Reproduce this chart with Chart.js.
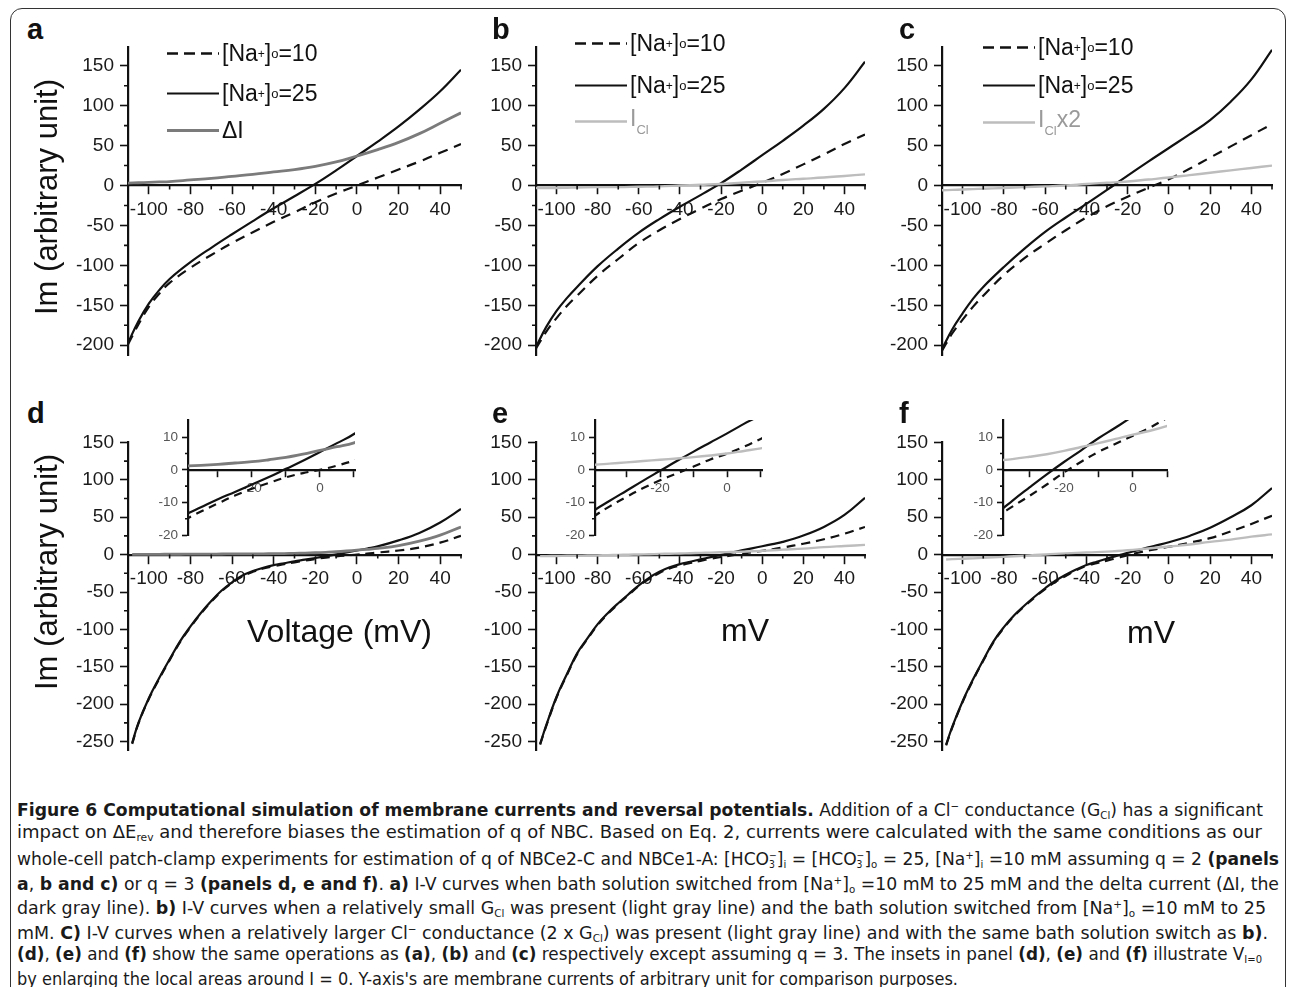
<!DOCTYPE html>
<html>
<head>
<meta charset="utf-8">
<script src="https://cdn.jsdelivr.net/npm/chart.js@4.4.1/dist/chart.umd.min.js"></script>
<style>
  body { margin: 0; background: #fff; }
  #page { position: relative; width: 1290px; height: 987px; overflow: hidden; color: #111;
          font-family: "Liberation Sans", Arial, sans-serif; }
  #frame { position: absolute; left: 10px; top: 8px; width: 1276px; height: 1000px;
           border: 1.5px solid #333; border-radius: 12px; box-sizing: border-box; }
  canvas { position: absolute; }
  .lbl { position: absolute; font-weight: bold; font-size: 29px; line-height: 1; }
  .ytitle { position: absolute; font-size: 31px; white-space: nowrap; line-height: 1;
            transform: translate(-50%, -50%) rotate(-90deg); }
  .xtitle { position: absolute; font-size: 32px; white-space: nowrap; line-height: 1;
            transform: translateY(-50%); }
  .leg { position: absolute; font-size: 23px; white-space: nowrap; line-height: 1;
         display: flex; align-items: center; transform: translateY(-50%); }
  .leg svg { margin-right: 3px; }
  .leg sup { font-size: 12px; vertical-align: 10px; }
  .leg sub { font-size: 13px; vertical-align: -8px; }
  .cap { position: absolute; white-space: nowrap; font-size: 18.5px; line-height: 24px;
         transform-origin: 0 50%; color: #1a1a1a;
         font-family: "Liberation Sans Narrow", "DejaVu Sans Condensed", "Liberation Sans", Arial, sans-serif; }
  .cap sub { font-size: 11px; vertical-align: -3px; }
  .cap sup { font-size: 11px; vertical-align: 6px; }
  .ss { display: inline-flex; flex-direction: column; font-size: 10px; line-height: 9px;
        vertical-align: 6px; }
</style>
</head>
<body>
<div id="page"><div id="frame"></div></div>
<script>
// voltages (mV) for the top row (q = 2) and bottom row (q = 3)
const vTop = [-110, -105, -100, -95, -90, -80, -70, -60, -50, -40, -30, -20, -10, 0, 10, 20, 30, 40, 50];
const vBot = [-108, -105, -100, -95, -90, -85, -80, -75, -70, -65, -60, -55, -50, -45, -40, -35, -30,
              -25, -20, -15, -10, -5, 0, 5, 10, 20, 30, 40, 50];

// panel a
const aNa10 = [-199, -174, -152, -135.5, -122, -103, -87, -72, -58.5, -45.5, -33.5, -21, -10, 0, 10, 20, 30, 41, 52];
const aNa25 = [-197, -170, -148, -131, -117, -96, -78, -61, -44.5, -28.5, -13.5, 2, 19, 37, 55, 74, 95, 118, 145];
const aDeltaI = [3, 3.5, 4, 4.5, 5, 7, 9, 11.5, 14, 17, 20, 24, 29.5, 37, 45, 54, 65, 78, 91];
// panel b
const bNa10 = [-204, -183, -166, -151, -138, -113, -92, -72, -56, -42, -29, -17, -6.5, 3.5, 14.5, 26.5, 39, 52, 64];
const bNa25 = [-202, -177, -157, -141, -127, -101, -79, -59, -42, -26.5, -12, 3, 20, 38, 56, 75, 96, 122, 155];
const bICl = [-3, -3, -3, -2.7, -2.5, -2, -2, -1.5, -1, 0, 1, 2, 3.5, 5, 7, 8.5, 10, 12, 14];
// panel c
const cNa10 = [-207, -185, -168, -152, -138, -112, -91, -73, -56, -40, -26, -14, -3, 8, 21, 35, 49, 63, 77];
const cNa25 = [-205, -180, -160, -142, -127, -102, -79, -58, -40, -23, -5.5, 12.5, 30, 47, 64, 82, 105, 133, 170];
const cICl2 = [-6, -5.5, -5, -4.5, -4, -3, -2, -1, 0, 2, 3.5, 5, 7.5, 10, 13, 16, 19, 22, 25];
// panel d
const dNa10 = [-253, -226, -193, -166, -141, -117, -97, -79, -63, -49, -38, -29, -23, -18.6, -15.5, -12.8,
               -10.3, -7.9, -5.8, -4, -2.3, -1, 0, 1.3, 2.8, 5.5, 9.5, 16, 25];
const dNa25 = [-252, -225, -192, -165, -140, -116, -96, -78, -62, -48, -37, -28, -22, -17.5, -14, -11.5,
               -9, -6.8, -4.5, -2.2, 0.3, 2.8, 5.5, 8.2, 11, 19, 29, 43, 61];
const dDeltaI = [0.3, 0.3, 0.4, 0.4, 0.5, 0.5, 0.6, 0.6, 0.7, 0.8, 0.9, 1, 1, 1.1, 1.2, 1.4, 1.7, 2.1,
                 2.5, 3.1, 3.8, 4.8, 6, 7.1, 8.3, 12, 18, 26, 37];
// panel e
const eNa10 = [-254, -229, -191, -161, -133, -113, -94, -79, -66, -54, -42, -32.5, -24.5, -18.5, -14.5,
               -11.2, -8.3, -5.6, -3.2, -1.1, 1, 3.2, 5, 7.1, 9.5, 14.5, 20.5, 28, 37];
const eNa25 = [-253, -228, -190, -160, -132, -112, -93, -78, -65, -53, -41, -31, -23, -17, -12.7, -9.5,
               -6.4, -3.3, -0.3, 2.7, 5.6, 8.4, 11.2, 14.1, 17, 25.5, 37, 53, 76];
const eICl = [-2, -2, -1.8, -1.6, -1.4, -1.2, -1, -0.7, -0.4, -0.1, 0.2, 0.5, 0.9, 1.2, 1.5, 1.9, 2.3,
              2.7, 3.1, 3.5, 3.9, 4.4, 5, 5.8, 6.6, 8, 10, 11.5, 13];
// panel f
const fNa10 = [-255, -231, -197, -168, -142, -117, -98, -82, -69, -57, -46, -36.5, -28.5, -21, -15,
               -11.3, -8, -4.5, -0.8, 2.5, 5.5, 8, 10.5, 13, 16, 22, 31, 41, 52];
const fNa25 = [-254, -230, -196, -167, -141, -116, -97, -81, -68, -56, -45, -35, -27, -20, -14, -9.5,
               -5.4, -1.4, 2.4, 6, 9.7, 13, 16.5, 20.5, 25, 36, 50, 66, 89];
const fICl2 = [-6.5, -6, -5.5, -5, -4.3, -3.6, -3, -2.2, -1.4, -0.6, 0.2, 1, 1.7, 2.3, 2.8, 3.3, 4, 4.8,
               5.8, 7, 8.2, 9.5, 10.8, 12, 13.5, 17, 20, 24, 27];

// axis ticks
const xMajor = [-100, -80, -60, -40, -20, 0, 20, 40];
const xMinor = [-90, -70, -50, -30, -10, 10, 30, 50];
const yTopMajor = [-200, -150, -100, -50, 0, 50, 100, 150];
const yTopMinor = [-175, -125, -75, -25, 25, 75, 125];
const yBotMajor = [-250, -200, -150, -100, -50, 0, 50, 100, 150];
const yBotMinor = [-225, -175, -125, -75, -25, 25, 75, 125];
const insetXTicks = [-30, -20, -10, 0, 10];
const insetXLabels = [-20, 0];
const insetYMajor = [-20, -10, 0, 10];
const insetYMinor = [-15, -5, 5];

const page = document.getElementById('page');
const FONT = '"Liberation Sans", Arial, sans-serif';

// short ticks between the labelled ones
const minorTickPlugin = {
  id: 'minorTicks',
  afterDraw(chart, _args, opts) {
    const { ctx } = chart;
    const xs = chart.scales.x, ys = chart.scales.y;
    const y0 = ys.getPixelForValue(0);
    const left = chart.chartArea.left;
    ctx.save();
    ctx.strokeStyle = '#111';
    ctx.lineWidth = 1.6;
    ctx.beginPath();
    (opts.x || []).forEach((v) => {
      const px = xs.getPixelForValue(v);
      ctx.moveTo(px, y0);
      ctx.lineTo(px, y0 + opts.len);
    });
    (opts.y || []).forEach((v) => {
      const py = ys.getPixelForValue(v);
      ctx.moveTo(left, py);
      ctx.lineTo(left - opts.len, py);
    });
    ctx.stroke();
    ctx.restore();
  },
};

function pts(xs, ys) {
  return xs.map((x, i) => ({ x, y: ys[i] }));
}

function line(xs, ys, kind, dash) {
  const look = {
    na10: { borderColor: '#111', borderWidth: 2.2, borderDash: dash || [10, 7] },
    na25: { borderColor: '#111', borderWidth: 2.2 },
    dI: { borderColor: '#7b7b7b', borderWidth: 2.8 },
    cl: { borderColor: '#bdbdbd', borderWidth: 2.4 },
  }[kind];
  return { data: pts(xs, ys), pointRadius: 0, tension: 0.4, fill: false, ...look };
}

function makeChart(cfg) {
  const YW = cfg.yw, PT = 14, PB = 14, PR = 10;
  const w = cfg.width + YW + PR, h = cfg.height + PT + PB;
  const cv = document.createElement('canvas');
  cv.width = w; cv.height = h;
  cv.style.width = w + 'px'; cv.style.height = h + 'px';
  cv.style.left = (cfg.left - YW) + 'px';
  cv.style.top = (cfg.top - PT) + 'px';
  page.appendChild(cv);

  const font = { family: FONT, size: cfg.fontSize };
  const chart = new Chart(cv, {
    type: 'line',
    data: { datasets: cfg.datasets },
    plugins: [minorTickPlugin],
    options: {
      responsive: false,
      animation: false,
      events: [],
      layout: { padding: { top: PT, bottom: PB, right: PR, left: 0 } },
      plugins: {
        legend: { display: false },
        tooltip: { enabled: false },
        minorTicks: { x: cfg.xMinor, y: cfg.yMinor, len: cfg.minorLen },
      },
      scales: {
        x: {
          type: 'linear',
          min: cfg.xMin,
          max: cfg.xMax,
          position: { y: 0 },
          afterBuildTicks: (s) => { s.ticks = cfg.xTicks.map((v) => ({ value: v })); },
          ticks: {
            autoSkip: false, maxRotation: 0, color: cfg.tickColor, font, padding: cfg.xPad,
            callback: (v) => (cfg.xLabels.includes(v) ? String(v) : ''),
          },
          grid: { drawOnChartArea: false, drawTicks: true, tickLength: cfg.majorLen,
                  tickWidth: 1.6, tickColor: '#111' },
          border: { display: true, color: '#111', width: 2.2 },
        },
        y: {
          type: 'linear',
          min: cfg.yMin,
          max: cfg.yMax,
          position: 'left',
          afterFit: (s) => { s.width = YW; },
          afterBuildTicks: (s) => { s.ticks = cfg.yTicks.map((v) => ({ value: v })); },
          ticks: { autoSkip: false, color: cfg.tickColor, font, padding: cfg.yPad,
                   callback: (v) => String(v) },
          grid: { drawOnChartArea: false, drawTicks: true, tickLength: cfg.majorLen,
                  tickWidth: 1.6, tickColor: '#111' },
          border: { display: true, color: '#111', width: 2.2 },
        },
      },
    },
  });
  const ca = chart.chartArea;
  cv.style.left = (cfg.left - ca.left) + 'px';
  cv.style.top = (cfg.top - ca.top) + 'px';
  return chart;
}

function mainPanel(left, width, row, datasets) {
  const top = row === 0 ? 47 : 442;
  return makeChart({
    left, top, width, height: 315, yw: 66,
    xMin: -110, xMax: 50,
    yMin: row === 0 ? -213 : -262, yMax: row === 0 ? 173 : 150,
    xTicks: xMajor, xLabels: xMajor, xMinor,
    yTicks: row === 0 ? yTopMajor : yBotMajor, yMinor: row === 0 ? yTopMinor : yBotMinor,
    fontSize: 19, tickColor: '#1a1a1a', xPad: 5, yPad: 6, majorLen: 8, minorLen: 4,
    datasets,
  });
}

function insetPanel(left, width, xMin, xMax, datasets) {
  return makeChart({
    left, top: 420, width, height: 115, yw: 42,
    xMin, xMax, yMin: -20, yMax: 15.3,
    xTicks: insetXTicks, xLabels: insetXLabels, xMinor: [],
    yTicks: insetYMajor, yMinor: insetYMinor,
    fontSize: 13.5, tickColor: '#555', xPad: 4, yPad: 4, majorLen: 6, minorLen: 3,
    datasets,
  });
}

// top row (q = 2)
mainPanel(128, 333, 0, [line(vTop, aDeltaI, 'dI'), line(vTop, aNa10, 'na10'), line(vTop, aNa25, 'na25')]);
mainPanel(536, 329, 0, [line(vTop, bICl, 'cl'), line(vTop, bNa10, 'na10'), line(vTop, bNa25, 'na25')]);
mainPanel(942, 330, 0, [line(vTop, cICl2, 'cl'), line(vTop, cNa10, 'na10'), line(vTop, cNa25, 'na25')]);

// bottom row (q = 3)
mainPanel(128, 333, 1, [line(vBot, dDeltaI, 'dI'), line(vBot, dNa10, 'na10', [9, 6]), line(vBot, dNa25, 'na25')]);
mainPanel(536, 329, 1, [line(vBot, eICl, 'cl'), line(vBot, eNa10, 'na10', [9, 6]), line(vBot, eNa25, 'na25')]);
mainPanel(942, 330, 1, [line(vBot, fICl2, 'cl'), line(vBot, fNa10, 'na10', [9, 6]), line(vBot, fNa25, 'na25')]);

// insets around I = 0
insetPanel(188, 167, -38.8, 10.3, [line(vBot, dDeltaI, 'dI'), line(vBot, dNa10, 'na10', [8, 6]), line(vBot, dNa25, 'na25')]);
insetPanel(595, 167, -39.4, 10.4, [line(vBot, eICl, 'cl'), line(vBot, eNa10, 'na10', [8, 6]), line(vBot, eNa25, 'na25')]);
insetPanel(1003, 164, -37.7, 9.9, [line(vBot, fICl2, 'cl'), line(vBot, fNa10, 'na10', [8, 6]), line(vBot, fNa25, 'na25')]);

// text overlays
function add(cls, html, style) {
  const el = document.createElement('div');
  el.className = cls;
  el.innerHTML = html;
  Object.assign(el.style, style);
  page.appendChild(el);
  return el;
}

[['a', 27, 15], ['b', 492, 15], ['c', 899, 15], ['d', 27, 399], ['e', 492, 399], ['f', 899, 399]]
  .forEach(([t, x, y]) => add('lbl', t, { left: x + 'px', top: y + 'px' }));

add('ytitle', 'Im (arbitrary unit)', { left: '46px', top: '197px' });
add('ytitle', 'Im (arbitrary unit)', { left: '46px', top: '572px' });
add('xtitle', 'Voltage (mV)', { left: '247px', top: '631px' });
add('xtitle', 'mV', { left: '721px', top: '630px' });
add('xtitle', 'mV', { left: '1127px', top: '632px' });

function sample(kind) {
  const st = {
    na10: 'stroke="#111" stroke-width="2.6" stroke-dasharray="11 6"',
    na25: 'stroke="#111" stroke-width="2.2"',
    dI: 'stroke="#7b7b7b" stroke-width="2.8"',
    cl: 'stroke="#bdbdbd" stroke-width="2.4"',
  }[kind];
  return `<svg width="52" height="6"><line x1="0" y1="3" x2="52" y2="3" ${st}/></svg>`;
}
const naLabel = (n) => `[Na<sup>+</sup>]<sub>o</sub>=${n}`;
const legends = [
  [167, [53, 93, 130], 'dI', 'ΔI', '#111'],
  [575, [43, 85, 121], 'cl', 'I<sub>Cl</sub>', '#9a9a9a'],
  [983, [47, 85, 122], 'cl', 'I<sub>Cl</sub>x2', '#9a9a9a'],
];
legends.forEach(([x, ys, kind, third, col]) => {
  add('leg', sample('na10') + naLabel(10), { left: x + 'px', top: ys[0] + 'px' });
  add('leg', sample('na25') + naLabel(25), { left: x + 'px', top: ys[1] + 'px' });
  add('leg', sample(kind) + `<span style="color:${col}">${third}</span>`, { left: x + 'px', top: ys[2] + 'px' });
});

// caption: each printed line is stretched to its printed width
const hco = (s) => `[HCO<span class="ss"><span>−</span><span>3</span></span>]<sub>${s}</sub>`;
const capLines = [
  ['<b>Figure 6 Computational simulation of membrane currents and reversal potentials.</b> Addition of a Cl<sup>−</sup> conductance (G<sub>Cl</sub>) has a significant', 1246],
  ['impact on ΔE<sub>rev</sub> and therefore biases the estimation of q of NBC. Based on Eq. 2, currents were calculated with the same conditions as our', 1245],
  [`whole-cell patch-clamp experiments for estimation of q of NBCe2-C and NBCe1-A: ${hco('i')} = ${hco('o')} = 25, [Na<sup>+</sup>]<sub>i</sub> =10 mM assuming q = 2 <b>(panels</b>`, 1262],
  ['<b>a</b>, <b>b and c)</b> or q = 3 <b>(panels d, e and f)</b>. <b>a)</b> I-V curves when bath solution switched from [Na<sup>+</sup>]<sub>o</sub> =10 mM to 25 mM and the delta current (ΔI, the', 1262],
  ['dark gray line). <b>b)</b> I-V curves when a relatively small G<sub>Cl</sub> was present (light gray line) and the bath solution switched from [Na<sup>+</sup>]<sub>o</sub> =10 mM to 25', 1249],
  ['mM. <b>C)</b> I-V curves when a relatively larger Cl<sup>−</sup> conductance (2 x G<sub>Cl</sub>) was present (light gray line) and with the same bath solution switch as <b>b)</b>.', 1251],
  ['<b>(d)</b>, <b>(e)</b> and <b>(f)</b> show the same operations as <b>(a)</b>, <b>(b)</b> and <b>(c)</b> respectively except assuming q = 3. The insets in panel <b>(d)</b>, <b>(e)</b> and <b>(f)</b> illustrate V<sub>I=0</sub>', 1245],
  ['by enlarging the local areas around I = 0. Y-axis\'s are membrane currents of arbitrary unit for comparison purposes.', 941],
];
capLines.forEach(([html, target], i) => {
  const el = add('cap', html, { left: '17px', top: (795 + i * 24.5) + 'px' });
  const natural = el.getBoundingClientRect().width;
  el.style.transform = `scaleX(${target / natural})`;
});
</script>
</body>
</html>
